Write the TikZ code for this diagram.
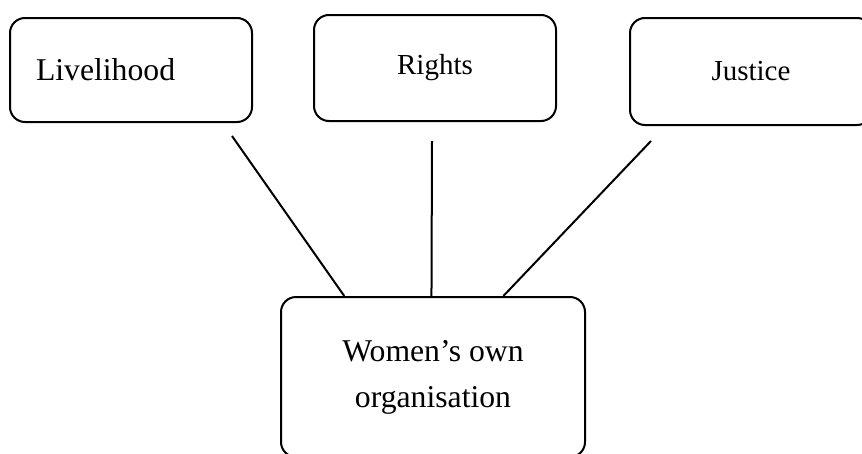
\documentclass[tikz,border=0pt]{standalone}
\usepackage{fontspec}
\setmainfont{Liberation Serif}
\usetikzlibrary{calc}

\begin{document}
\begin{tikzpicture}[x=1pt,y=-1pt]
\tikzstyle{box}=[draw=black,line width=2pt,rounded corners=15pt,inner sep=0pt]
\tikzstyle{link}=[draw=black,line width=2pt]
\useasboundingbox (0,0) rectangle (862,453);
% top row
\node [box,minimum width=242pt,minimum height=104pt,text width=190pt,align=left,font=\fontsize{31.7}{38}\selectfont] (liv) at (131,70) {Livelihood};
\node [box,minimum width=242pt,minimum height=106pt,font=\fontsize{29}{35}\selectfont] (rights) at (435,68) {Rights};
\node [box,minimum width=242pt,minimum height=107pt,font=\fontsize{29}{35}\selectfont] (justice) at (751,71.5) {Justice};
% bottom box
\node [box,minimum width=304pt,minimum height=160pt,align=center,font=\fontsize{31.7}{46}\selectfont] (org) at (433,377) {Women’s own\\organisation};
% connectors
\coordinate (livend) at (232,136);
\coordinate (rightsend) at (432,141);
\coordinate (justiceend) at (651,141);
\draw [link] (livend) -- ($(org.north west)!0.21!(org.north east)$);
\draw [link] (rightsend) -- ($(org.north west)!0.495!(org.north east)$);
\draw [link] (justiceend) -- ($(org.north west)!0.73!(org.north east)$);
\end{tikzpicture}
\end{document}
